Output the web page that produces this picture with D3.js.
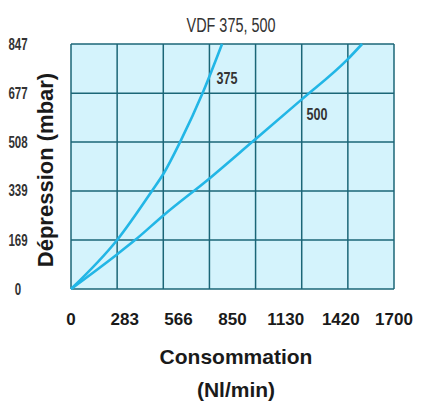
<!DOCTYPE html>
<html><head><meta charset="utf-8">
<script src="https://cdn.jsdelivr.net/npm/d3@7"></script>
<style>html,body{margin:0;padding:0;background:#fff;}svg{display:block;}</style>
</head><body>
<script>
const title = "VDF 375, 500";
const xTicks = [0, 283, 566, 850, 1130, 1420, 1700];
const yTicks = [0, 169, 339, 508, 677, 847];
const xGridDivisions = 7;
const series375 = [[0,0],[247,173],[426,339],[489,401],[574,508],[695,681],[795,847]];
const series500 = [[0,0],[247,122],[337,169],[489,256],[732,384],[953,508],[1210,653],[1453,792],[1532,847]];
const seriesNames = ["375", "500"];
const labelAt = [[821,729],[1295,605]];
const xTitle = ["Consommation", "(Nl/min)"];
const yTitle = "Dépression (mbar)";

const W = 421, H = 401;
const svg = d3.select("body").append("svg").attr("width", W).attr("height", H);
const x = d3.scaleLinear().domain([0, 1700]).range([71, 394]);
const y = d3.scaleLinear().domain([0, 847]).range([289, 44]);

const gridColor = "#1b6677";
svg.append("rect").attr("x", x(0)).attr("y", y(847)).attr("width", x(1700)-x(0)).attr("height", y(0)-y(847))
  .attr("fill", "#d4f3fc");

const xGrid = d3.range(xGridDivisions + 1).map(i => i * 1700 / xGridDivisions);
svg.append("g").selectAll("line").data(xGrid).join("line")
  .attr("x1", d => x(d)).attr("x2", d => x(d)).attr("y1", y(0)).attr("y2", y(847))
  .attr("stroke", gridColor).attr("stroke-width", 1.5);
svg.append("g").selectAll("line").data(yTicks).join("line")
  .attr("x1", x(0)).attr("x2", x(1700)).attr("y1", d => y(d)).attr("y2", d => y(d))
  .attr("stroke", gridColor).attr("stroke-width", 1.5);

const line = d3.line().x(d => x(d[0])).y(d => y(d[1])).curve(d3.curveMonotoneX);
[series375, series500].forEach(s => {
  svg.append("path").datum(s).attr("d", line).attr("fill", "none")
    .attr("stroke", "#22b6e6").attr("stroke-width", 2.6);
});

const sans = "'Liberation Sans', Arial, sans-serif";
svg.append("g").selectAll("text").data(seriesNames).join("text")
  .attr("transform", (d, i) => `translate(${x(labelAt[i][0])},${y(labelAt[i][1]) + 6}) scale(0.74,1)`)
  .attr("text-anchor", "middle")
  .attr("font-family", sans).attr("font-weight", "bold").attr("font-size", 17)
  .attr("fill", "#333").text(d => d);

svg.append("text").attr("transform", "translate(231,32) scale(0.74,1)").attr("text-anchor", "middle")
  .attr("font-family", sans).attr("font-size", 19.5).attr("fill", "#333").text(title);

svg.append("g").selectAll("text").data(yTicks).join("text")
  .attr("transform", d => `translate(18,${y(d) + 5.5}) scale(0.72,1)`).attr("text-anchor", "middle")
  .attr("font-family", sans).attr("font-weight", "bold").attr("font-size", 16)
  .attr("fill", "#333").text(d => d);

svg.append("g").selectAll("text").data(xTicks).join("text")
  .attr("x", d => x(d)).attr("y", 325).attr("text-anchor", "middle")
  .attr("font-family", sans).attr("font-weight", "bold").attr("font-size", 17)
  .attr("fill", "#1a1a1a").text(d => d);

svg.append("text").attr("x", 236).attr("y", 364).attr("text-anchor", "middle")
  .attr("font-family", sans).attr("font-weight", "bold").attr("font-size", 21)
  .attr("fill", "#1a1a1a").text(xTitle[0]);
svg.append("text").attr("x", 236).attr("y", 397).attr("text-anchor", "middle")
  .attr("font-family", sans).attr("font-weight", "bold").attr("font-size", 21)
  .attr("fill", "#1a1a1a").text(xTitle[1]);

svg.append("text").attr("transform", "translate(53,170) rotate(-90)").attr("text-anchor", "middle")
  .attr("font-family", sans).attr("font-weight", "bold").attr("font-size", 22)
  .attr("fill", "#1a1a1a").text(yTitle);
</script>
</body></html>
